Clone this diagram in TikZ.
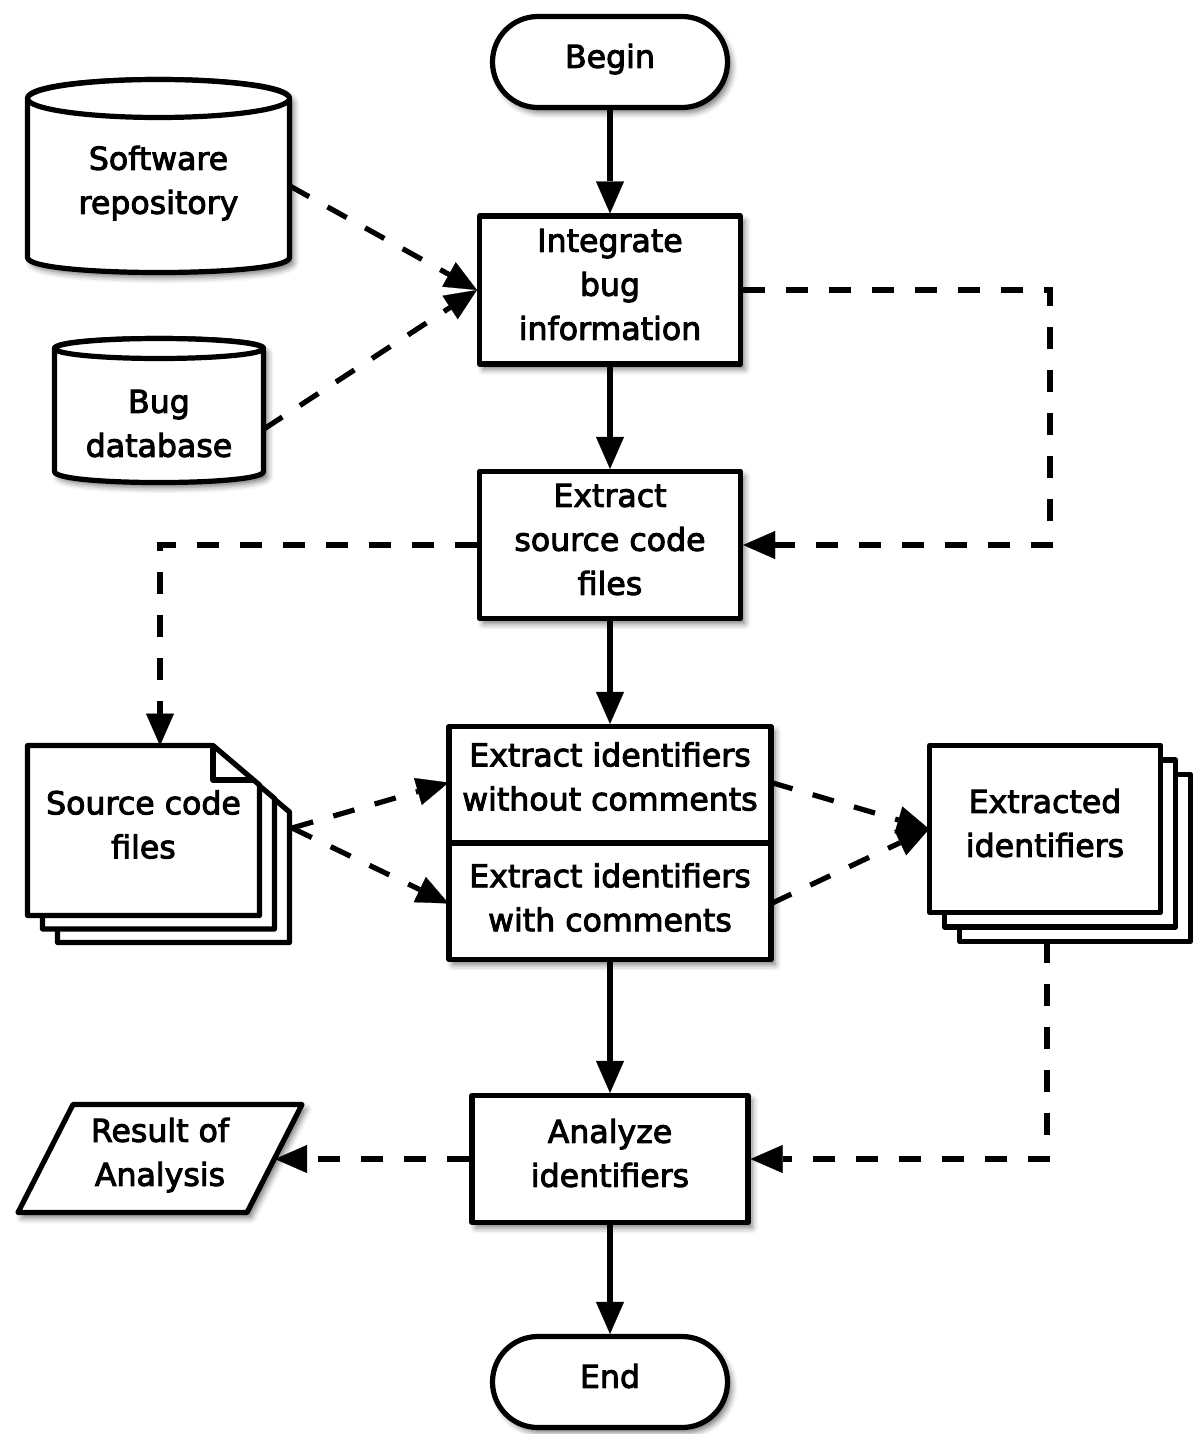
\documentclass[tikz,border=0pt]{standalone}
\usepackage{fontspec}
\setmainfont{DejaVu Sans}[FakeBold=3]
\usetikzlibrary{arrows.meta,shadows.blur}
\newcommand{\mltext}[1]{\raisebox{1.5pt}[\height][\depth]{\begin{tabular}{@{}c@{}}#1\end{tabular}}}
\begin{document}
\begin{tikzpicture}[x=0.5pt,y=-0.5pt, font=\fontsize{15.8}{22}\selectfont,
  every node/.style={align=center, inner sep=0pt},
  sh/.style={blur shadow={shadow xshift=2pt,shadow yshift=-2.5pt,shadow blur radius=3pt,shadow opacity=55}},
  outline/.style={draw=black, line width=2.6pt, fill=white, line join=round},
  proc/.style={outline, sh, rectangle},
  term/.style={outline, sh, rectangle, rounded corners=22.7pt, minimum width=117.5pt, minimum height=45.5pt},
  flow/.style={line width=2.6pt, -{Triangle[length=16pt,width=14pt,fill=black,line width=0.1pt]}},
  dflow/.style={flow, dash pattern=on 11pt off 10.5pt},
  txt/.style={draw=none, fill=none}
]
\useasboundingbox (0,0) rectangle (1194,1434);

% terminals and processes
\node[term] (begin) at (610,62) {\mltext{Begin}};
\node[proc, minimum width=130.5pt, minimum height=74pt] (integ) at (610,290) {\mltext{Integrate\\bug\\information}};
\node[proc, minimum width=130.5pt, minimum height=73.5pt] (src) at (610,545) {\mltext{Extract\\source code\\files}};
\node[proc, minimum width=161pt, minimum height=116.5pt] (ext) at (610,843) {};
\node[txt, minimum width=161pt, minimum height=58.25pt, anchor=north] (extA) at (ext.north) {\mltext{Extract identifiers\\without comments}};
\node[txt, minimum width=161pt, minimum height=58.25pt, anchor=south] (extB) at (ext.south) {\mltext{Extract identifiers\\with comments}};
\draw[line width=2.6pt] (ext.west) -- (ext.east);
\node[proc, minimum width=138pt, minimum height=63.5pt] (anal) at (610,1159) {\mltext{Analyze\\identifiers}};
\node[term] (end) at (610,1382) {\mltext{End}};

% software repository cylinder
\path[outline, sh] (27.5,98.5) -- (27.5,257.5) .. controls (27.5,277.5) and (289.5,277.5) .. (289.5,257.5) -- (289.5,98.5) .. controls (289.5,73.2) and (27.5,73.2) .. (27.5,98.5) -- cycle;
\draw[outline] (158.5,98.5) ellipse [x radius=131, y radius=19];
\node[txt, minimum width=131pt, minimum height=96.5pt] (softw) at (158.5,186) {\mltext{Software\\repository}};

% bug database cylinder
\path[outline, sh] (54.5,348.5) -- (54.5,471.5) .. controls (54.5,486.2) and (263.5,486.2) .. (263.5,471.5) -- (263.5,348.5) .. controls (263.5,335.2) and (54.5,335.2) .. (54.5,348.5) -- cycle;
\draw[outline] (159,348.5) ellipse [x radius=104.5, y radius=10];
\node[txt, minimum width=104.5pt, minimum height=72pt] (bug) at (159,429) {\mltext{Bug\\database}};

% source code files stack
\foreach \dx/\dy in {30/27,15/13.5,0/0}{
  \draw[outline] ([shift={(\dx,\dy)}]27.5,745.5) -- ([shift={(\dx,\dy)}]213,745.5) -- ([shift={(\dx,\dy)}]259.5,785) -- ([shift={(\dx,\dy)}]259.5,915.5) -- ([shift={(\dx,\dy)}]27.5,915.5) -- cycle;
}
\draw[outline, fill=none] (213,745.5) -- (213,780) -- (254,780);
\node[txt, minimum width=116pt, minimum height=85pt] (scf) at (143.5,830.5) {\mltext{Source code\\files}};
\coordinate (scfin) at (160,745.5);
\coordinate (scfR) at (292,828);

% extracted identifiers stack
\foreach \dx/\dy in {30/29,15/14.5,0/0}{
  \draw[outline] ([shift={(\dx,\dy)}]929.5,745.5) rectangle ([shift={(\dx,\dy)}]1160.5,912.5);
}
\node[txt, minimum width=115.5pt, minimum height=83.5pt] (eid) at (1045,829) {\mltext{Extracted\\identifiers}};
\coordinate (eidB) at (1047,941);

% result parallelogram
\path[outline, sh] (73,1104.5) -- (302,1104.5) -- (247,1212.5) -- (18,1212.5) -- cycle;
\node[txt] (res) at (160,1158) {\mltext{Result of\\Analysis}};
\coordinate (resR) at (275,1159);

% corner for loop
\coordinate (rt) at (1050,417);

% solid flow
\draw[flow] (begin.south) -- (integ.north);
\draw[flow] (integ.south) -- (src.north);
\draw[flow] (src.south) -- (ext.north);
\draw[flow] (ext.south) -- (anal.north);
\draw[flow] (anal.south) -- (end.north);

% dashed flow
\draw[dflow] (softw.east) -- (integ.west);
\draw[dflow] (bug.east) -- (integ.west);
\draw[dflow] (integ.east) -| (rt) |- (src.east);
\draw[dflow] (src.west) -| (scfin);
\draw[dflow] (scfR) -- (extA.west);
\draw[dflow] (scfR) -- (extB.west);
\draw[dflow] (extA.east) -- (eid.west);
\draw[dflow] (extB.east) -- (eid.west);
\draw[dflow] (eidB) |- (anal.east);
\draw[dflow] (anal.west) -- (resR);
\end{tikzpicture}
\end{document}
